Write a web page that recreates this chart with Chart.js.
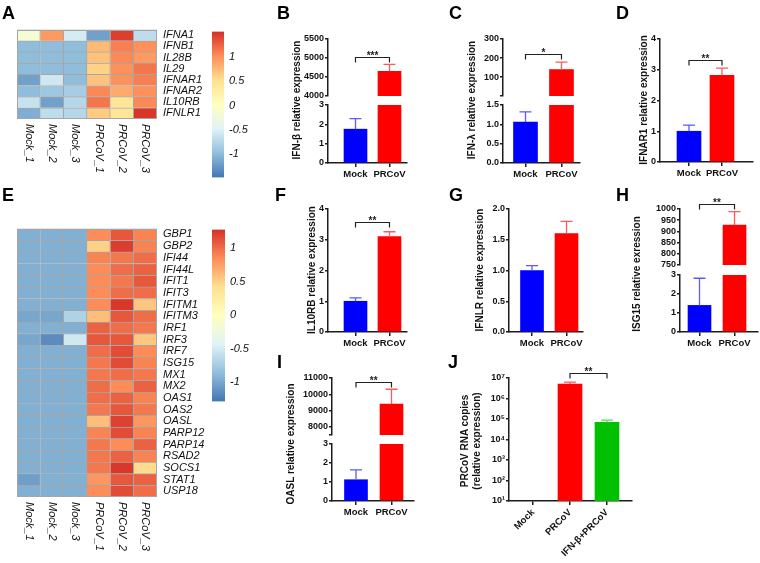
<!DOCTYPE html>
<html><head><meta charset="utf-8">
<script src="https://cdn.jsdelivr.net/npm/chart.js@4.4.1/dist/chart.umd.min.js"></script>
<style>
html,body{margin:0;padding:0;background:#fff;}
#root{position:relative;width:760px;height:563px;overflow:hidden;font-family:Arial,"Liberation Sans",sans-serif;}
canvas{position:absolute;}
.plbl{position:absolute;font-weight:bold;font-size:18px;line-height:18px;color:#000;}
.yt{position:absolute;font-weight:bold;font-size:10px;line-height:12px;white-space:nowrap;text-align:center;color:#111;transform:translate(-50%,-50%) rotate(-90deg);}
</style></head><body><div id="root"></div>
<script>
// ---------------- DATA ----------------
const heatSamples = ['Mock_1','Mock_2','Mock_3','PRCoV_1','PRCoV_2','PRCoV_3'];

const genesA = ['IFNA1','IFNB1','IL28B','IL29','IFNAR1','IFNAR2','IL10RB','IFNLR1'];
const aMock1  = [-0.15, -1.0, -1.0, -1.0, -1.2, -1.0, -0.65, -1.1];
const aMock2  = [ 0.95, -1.0, -1.0, -1.0, -0.6, -0.9, -1.2, -0.7];
const aMock3  = [-0.55, -1.0, -1.0, -1.0, -1.0, -0.85, -0.75, -0.75];
const aPRCoV1 = [-1.2, 0.75, 0.7, 0.6, 0.7, 1.05, 1.15, 0.65];
const aPRCoV2 = [ 1.45, 1.1, 1.05, 1.0, 1.0, 0.85, 0.45, 0.45];
const aPRCoV3 = [-0.7, 1.0, 0.95, 1.15, 1.1, 1.0, 1.05, 1.5];
const aScaleTicks = [-1, -0.5, 0, 0.5, 1];

const genesE = ['GBP1','GBP2','IFI44','IFI44L','IFIT1','IFIT3','IFITM1','IFITM3','IRF1','IRF3','IRF7','ISG15','MX1','MX2','OAS1','OAS2','OASL','PARP12','PARP14','RSAD2','SOCS1','STAT1','USP18'];
const eMock1  = [-0.95,-0.95,-0.95,-0.95,-0.95,-0.95,-0.95,-1.0,-0.95,-1.0,-0.95,-0.95,-0.95,-0.95,-0.95,-0.95,-0.95,-0.95,-0.95,-0.95,-0.95,-1.05,-0.95];
const eMock2  = [-0.95,-0.95,-0.95,-0.95,-0.95,-0.95,-0.95,-1.0,-0.95,-1.16,-0.95,-0.95,-0.95,-0.95,-0.95,-0.95,-0.95,-0.95,-0.95,-0.95,-0.95,-0.95,-0.95];
const eMock3  = [-0.95,-0.95,-0.95,-0.95,-0.95,-0.95,-0.95,-0.7,-0.95,-0.52,-0.95,-0.95,-0.95,-0.95,-0.95,-0.95,-0.95,-0.95,-0.95,-0.95,-0.95,-0.95,-0.95];
const ePRCoV1 = [0.85,0.5,0.9,0.85,0.85,0.85,0.85,0.6,1.05,1.1,1.0,0.95,0.95,1.0,1.0,0.95,0.6,0.9,0.95,0.95,0.95,0.8,0.85];
const ePRCoV2 = [1.1,1.22,0.95,1.0,0.95,1.0,1.25,1.1,1.0,1.1,1.15,1.15,1.0,0.85,1.05,1.1,1.2,1.15,0.85,1.05,1.25,1.1,1.15];
const ePRCoV3 = [0.9,0.9,1.0,1.05,1.1,1.0,0.55,1.0,0.95,0.55,0.85,0.9,0.95,1.05,0.9,0.95,0.8,0.9,1.05,0.9,0.45,1.05,1.0];
const eScaleTicks = [-1, -0.5, 0, 0.5, 1];

const groups2 = ['Mock','PRCoV'];
const bMean = [1.75, 4650];  const bSD = [0.55, 180];
const cMean = [1.06, 140];   const cSD = [0.26, 39];
const dMean = [1.0, 2.82];   const dSD = [0.2, 0.23];
const fMean = [1.0, 3.1];    const fSD = [0.11, 0.16];
const gMean = [1.0, 1.6];    const gSD = [0.08, 0.2];
const hMean = [1.4, 928];    const hSD = [1.43, 60];
const iMean = [1.12, 9400];  const iSD = [0.52, 910];
const jGroups = ['Mock','PRCoV','IFN-β+PRCoV'];
const jMean = [null, 5.1e6, 6.9e4]; const jSD = [null, 1.2e6, 2.0e4];

const bUpTicks = [4000, 4500, 5000, 5500];
const lowTicks3 = [0, 1, 2, 3];
const cUpTicks = [1.5, 100, 200, 300];  const cUpLabels = ['', '100', '200', '300'];
const cLowTicks = [0, 0.5, 1.0, 1.5];   const cLowLabels = ['0.0','0.5','1.0','1.5'];
const ticks4 = [0, 1, 2, 3, 4];
const gTicks = [0, 0.5, 1.0, 1.5, 2.0]; const gLabels = ['0.0','0.5','1.0','1.5','2.0'];
const hUpTicks = [750, 800, 850, 900, 950, 1000];
const iUpTicks = [7500, 8000, 9000, 10000, 11000]; const iUpLabels = ['', '8000','9000','10000','11000'];
const jTicks = [1e1, 1e2, 1e3, 1e4, 1e5, 1e6, 1e7];
const jLabels = ['10¹','10²','10³','10⁴','10⁵','10⁶','10⁷'];

const colors2 = ['#0000FF', '#FF0000'];
const errColors2 = ['#5a5aff', '#ff5a5a'];
const colorsJ = ['#0000FF', '#FF0000', '#00C000'];
const errColorsJ = ['#5a5aff', '#ff5a5a', '#5ad85a'];

// ---------------- HELPERS ----------------
const root = document.getElementById('root');
const FONT = 'Arial, "Liberation Sans", sans-serif';
const AX = '#1c1c1c';
Chart.defaults.font.family = FONT;

function addCanvas(left, top, w, h) {
  const c = document.createElement('canvas');
  c.width = w; c.height = h;
  c.style.left = left + 'px'; c.style.top = top + 'px';
  c.style.width = w + 'px'; c.style.height = h + 'px';
  root.appendChild(c);
  return c;
}
function addDiv(cls, html, x, y) {
  const d = document.createElement('div');
  d.className = cls; d.innerHTML = html;
  d.style.left = x + 'px'; d.style.top = y + 'px';
  root.appendChild(d);
}

const PAL = ['#4575B4','#91BFDB','#E0F3F8','#FFFFBF','#FEE090','#FC8D59','#D73027'];
function hexRgb(h) { return [1,3,5].map(i => parseInt(h.substr(i,2),16)); }
function heatColor(v, lo, hi) {
  let t = (v - lo) / (hi - lo); t = Math.max(0, Math.min(1, t));
  const s = t * (PAL.length - 1);
  const i = Math.min(PAL.length - 2, Math.floor(s));
  const f = s - i;
  const a = hexRgb(PAL[i]), b = hexRgb(PAL[i+1]);
  return 'rgb(' + a.map((c,k) => Math.round(c + (b[k]-c)*f)).join(',') + ')';
}

function heatmap(h) {
  const YW = 55, TOP = 12, BOT = 70;
  const cv = addCanvas(0, h.t - TOP, h.r + YW, (h.b - h.t) + TOP + BOT);
  new Chart(cv, {
    type: 'bar',
    data: {
      labels: h.genes,
      datasets: h.cols.map((col, j) => ({
        label: heatSamples[j],
        data: col.map(() => 1),
        backgroundColor: col.map(v => heatColor(v, h.lo, h.hi)),
        borderColor: '#a6a6a6',
        borderWidth: {top: 1, right: 1, bottom: 0, left: 0},
        borderSkipped: false,
        barPercentage: 1, categoryPercentage: 1
      }))
    },
    options: {
      indexAxis: 'y', responsive: false, animation: false, events: [],
      layout: {padding: {left: h.l, top: TOP, right: 0, bottom: BOT}},
      plugins: {legend: {display: false}, tooltip: {enabled: false}},
      scales: {
        x: {stacked: true, min: 0, max: h.cols.length, display: false},
        y: {stacked: true, position: 'right', afterFit: s => { s.width = YW; },
            grid: {display: false, drawTicks: false}, border: {display: false},
            ticks: {font: {family: FONT, size: 11, style: 'italic'}, color: '#111', padding: 6, autoSkip: false}}
      }
    },
    plugins: [{
      id: 'hmExtra',
      afterDraw(chart) {
        const ctx = chart.ctx, ca = chart.chartArea, xs = chart.scales.x;
        ctx.save();
        ctx.strokeStyle = '#a6a6a6'; ctx.lineWidth = 1;
        ctx.strokeRect(Math.round(ca.left) + 0.5, Math.round(ca.top) + 0.5, Math.round(ca.right - ca.left) - 1, Math.round(ca.bottom - ca.top) - 1);
        ctx.fillStyle = '#111';
        ctx.font = 'italic 11px ' + FONT;
        ctx.textAlign = 'left'; ctx.textBaseline = 'middle';
        heatSamples.forEach((s, j) => {
          const x = xs.getPixelForValue(j + 0.5);
          ctx.save(); ctx.translate(x, ca.bottom + 5); ctx.rotate(Math.PI / 2);
          ctx.fillText(s, 0, 0); ctx.restore();
        });
        ctx.restore();
      }
    }]
  });
}

function colorbar(c) {
  const PL = 6, TOP = 10, YW = 40;
  const cv = addCanvas(c.l - PL, c.t - TOP, PL + (c.r - c.l) + YW, (c.b - c.t) + 2 * TOP);
  new Chart(cv, {
    type: 'bar',
    data: {labels: ['scale'], datasets: [{
      data: [[c.lo, c.hi]],
      backgroundColor: (ctx) => {
        const ca = ctx.chart.chartArea; if (!ca) return '#ccc';
        const g = ctx.chart.ctx.createLinearGradient(0, ca.bottom, 0, ca.top);
        PAL.forEach((col, i) => g.addColorStop(i / (PAL.length - 1), col));
        return g;
      },
      borderWidth: 0, barPercentage: 1, categoryPercentage: 1
    }]},
    options: {
      responsive: false, animation: false, events: [],
      layout: {padding: {left: PL, top: TOP, right: 0, bottom: TOP}},
      plugins: {legend: {display: false}, tooltip: {enabled: false}},
      scales: {
        x: {display: false},
        y: {position: 'right', min: c.lo, max: c.hi, afterFit: s => { s.width = YW; },
            afterBuildTicks: s => { s.ticks = c.ticks.map(v => ({value: v})); },
            grid: {display: false, drawTicks: false}, border: {display: false},
            ticks: {font: {family: FONT, size: 11, style: 'italic'}, color: '#111', padding: 5,
                    callback: v => String(v)}}
      }
    }
  });
}

function barPanel(p) {
  const YW = 44, TOP = 24, RIGHT = 8;
  const XH = p.showX ? (p.xh || 30) : 0;
  const BOT = p.showX ? 0 : 8;
  const cv = addCanvas(p.l - YW, p.t - TOP, YW + (p.r - p.l) + RIGHT, TOP + (p.b - p.t) + XH + BOT);
  // only values reaching this axis segment are drawn here
  const pts = p.values.map((v, i) => ({x: i + 1, y: (v == null || v < p.yMin) ? null : v}));
  new Chart(cv, {
    type: 'bar',
    data: {datasets: [{data: pts, backgroundColor: p.colors, borderWidth: 0, barThickness: p.barW || 23, clip: 0}]},
    options: {
      responsive: false, animation: false, events: [],
      layout: {padding: {left: 0, top: TOP, right: RIGHT, bottom: BOT}},
      plugins: {legend: {display: false}, tooltip: {enabled: false}},
      scales: {
        x: {type: 'linear', min: p.xMin, max: p.xMax, display: !!p.showX, offset: false,
            afterFit: s => { s.height = XH; },
            afterBuildTicks: s => { s.ticks = p.xLabels.map((_, i) => ({value: i + 1})); },
            ticks: {callback: v => p.xLabels[Math.round(v) - 1] || '', font: {family: FONT, size: 9.5, weight: 'bold'},
                    color: '#111', padding: 2, autoSkip: false, minRotation: p.xRot || 0, maxRotation: p.xRot || 0},
            grid: {display: true, offset: false, drawOnChartArea: false, drawTicks: true, tickLength: 4, color: AX, lineWidth: 1.5},
            border: {display: true, color: AX, width: 1.5}},
        y: {type: p.yType || 'linear', min: p.yMin, max: p.yMax,
            afterFit: s => { s.width = YW; },
            afterBuildTicks: s => { s.ticks = p.yTicks.map(v => ({value: v})); },
            ticks: {callback: (v, i) => (p.yLabels ? p.yLabels[i] : String(v)), font: {family: FONT, size: 9, weight: 'bold'},
                    color: '#111', padding: 1, autoSkip: false},
            grid: {display: true, drawOnChartArea: false, drawTicks: true, tickLength: 3, color: AX, lineWidth: 1.5},
            border: {display: true, color: AX, width: 1.5}}
      }
    },
    plugins: [{
      id: 'errs',
      afterDatasetsDraw(chart) {
        const ctx = chart.ctx, xs = chart.scales.x, ys = chart.scales.y;
        ctx.save();
        p.values.forEach((v, i) => {
          const e = p.errors[i];
          if (v == null || e == null || v < p.yMin || v > p.yMax) return;
          const x = xs.getPixelForValue(i + 1);
          const y0 = ys.getPixelForValue(v), y1 = ys.getPixelForValue(v + e);
          ctx.strokeStyle = p.errColors[i]; ctx.lineWidth = 1.3;
          ctx.beginPath();
          ctx.moveTo(x, y0); ctx.lineTo(x, y1);
          ctx.moveTo(x - 6, y1); ctx.lineTo(x + 6, y1);
          ctx.stroke();
        });
        if (p.bracket) {
          const br = p.bracket;
          const y = Math.round(ys.getPixelForValue(br.y)) + 0.5;
          const x1 = xs.getPixelForValue(br.a), x2 = xs.getPixelForValue(br.b);
          ctx.strokeStyle = '#222'; ctx.lineWidth = 1.2;
          ctx.beginPath();
          ctx.moveTo(x1, y + 5); ctx.lineTo(x1, y); ctx.lineTo(x2, y); ctx.lineTo(x2, y + 5);
          ctx.stroke();
          ctx.fillStyle = '#222'; ctx.font = 'bold 10px ' + FONT;
          ctx.textAlign = 'center'; ctx.textBaseline = 'alphabetic';
          ctx.fillText(br.text, (x1 + x2) / 2, y + 1);
        }
        ctx.restore();
      }
    }]
  });
}

// ---------------- PANELS ----------------
// A
heatmap({l: 17, r: 157, t: 29, b: 119, genes: genesA, cols: [aMock1, aMock2, aMock3, aPRCoV1, aPRCoV2, aPRCoV3], lo: -1.49, hi: 1.53});
colorbar({l: 212, r: 224, t: 30, b: 179, lo: -1.49, hi: 1.53, ticks: aScaleTicks});
// E
heatmap({l: 17, r: 157, t: 228, b: 497, genes: genesE, cols: [eMock1, eMock2, eMock3, ePRCoV1, ePRCoV2, ePRCoV3], lo: -1.29, hi: 1.28});
colorbar({l: 212, r: 225, t: 228, b: 403, lo: -1.29, hi: 1.28, ticks: eScaleTicks});

// B
barPanel({l: 328, r: 407, t: 39, b: 96, xMin: 0.191, xMax: 2.515, yMin: 4000, yMax: 5500, yTicks: bUpTicks,
  values: bMean, errors: bSD, colors: colors2, errColors: errColors2, xLabels: groups2, showX: false,
  bracket: {y: 5030, a: 1, b: 2, text: '***'}});
barPanel({l: 328, r: 407, t: 105, b: 163, xMin: 0.191, xMax: 2.515, yMin: 0, yMax: 3, yTicks: lowTicks3,
  values: bMean, errors: bSD, colors: colors2, errColors: errColors2, xLabels: groups2, showX: true});
// C
barPanel({l: 503, r: 580, t: 39, b: 96, xMin: 0.375, xMax: 2.514, yMin: 1.5, yMax: 300, yTicks: cUpTicks, yLabels: cUpLabels,
  values: cMean, errors: cSD, colors: colors2, errColors: errColors2, xLabels: groups2, showX: false, barW: 24,
  bracket: {y: 220, a: 1, b: 2, text: '*'}});
barPanel({l: 503, r: 580, t: 105, b: 163, xMin: 0.375, xMax: 2.514, yMin: 0, yMax: 1.5, yTicks: cLowTicks, yLabels: cLowLabels,
  values: cMean, errors: cSD, colors: colors2, errColors: errColors2, xLabels: groups2, showX: true, barW: 24});
// D
barPanel({l: 660, r: 753, t: 39, b: 162, xMin: 0.121, xMax: 2.94, yMin: 0, yMax: 4, yTicks: ticks4,
  values: dMean, errors: dSD, colors: colors2, errColors: errColors2, xLabels: groups2, showX: true, barW: 24,
  bracket: {y: 3.32, a: 1, b: 2, text: '**'}});
// F
barPanel({l: 328, r: 407, t: 209, b: 332, xMin: 0.191, xMax: 2.515, yMin: 0, yMax: 4, yTicks: ticks4,
  values: fMean, errors: fSD, colors: colors2, errColors: errColors2, xLabels: groups2, showX: true,
  bracket: {y: 3.58, a: 1, b: 2, text: '**'}});
// G
barPanel({l: 509, r: 583, t: 209, b: 332, xMin: 0.333, xMax: 2.478, yMin: 0, yMax: 2, yTicks: gTicks, yLabels: gLabels,
  values: gMean, errors: gSD, colors: colors2, errColors: errColors2, xLabels: groups2, showX: true});
// H
barPanel({l: 680, r: 758, t: 209, b: 265, xMin: 0.443, xMax: 2.671, yMin: 750, yMax: 1000, yTicks: hUpTicks,
  values: hMean, errors: hSD, colors: colors2, errColors: errColors2, xLabels: groups2, showX: false,
  bracket: {y: 1022, a: 1, b: 2, text: '**'}});
barPanel({l: 680, r: 758, t: 275, b: 332, xMin: 0.443, xMax: 2.671, yMin: 0, yMax: 3, yTicks: lowTicks3,
  values: hMean, errors: hSD, colors: colors2, errColors: errColors2, xLabels: groups2, showX: true});
// I
barPanel({l: 332, r: 414, t: 378, b: 435, xMin: 0.324, xMax: 2.634, yMin: 7500, yMax: 11000, yTicks: iUpTicks, yLabels: iUpLabels,
  values: iMean, errors: iSD, colors: colors2, errColors: errColors2, xLabels: groups2, showX: false,
  bracket: {y: 10760, a: 1, b: 2, text: '**'}});
barPanel({l: 332, r: 414, t: 444, b: 501, xMin: 0.324, xMax: 2.634, yMin: 0, yMax: 3, yTicks: lowTicks3,
  values: iMean, errors: iSD, colors: colors2, errColors: errColors2, xLabels: groups2, showX: true});
// J
barPanel({l: 509, r: 632, t: 378, b: 501, xMin: 0.351, xMax: 3.676, yType: 'logarithmic', yMin: 10, yMax: 1e7,
  yTicks: jTicks, yLabels: jLabels, values: jMean, errors: jSD, colors: colorsJ, errColors: errColorsJ,
  xLabels: jGroups, showX: true, xh: 62, xRot: 45, barW: 24,
  bracket: {y: 1.75e7, a: 2, b: 3, text: '**'}});

// Axis titles
addDiv('yt', 'IFN-β relative expression', 297, 100);
addDiv('yt', 'IFN-λ relative expression', 472, 100);
addDiv('yt', 'IFNAR1 relative expression', 644, 100);
addDiv('yt', 'IL10RB relative expression', 312, 270);
addDiv('yt', 'IFNLR relative expression', 480, 270);
addDiv('yt', 'ISG15 relative exression', 637, 274);
addDiv('yt', 'OASL relative expression', 291, 444);
addDiv('yt', 'PRCoV RNA copies<br>(relative expression)', 471, 441);

// Panel letters
[['A',2,6],['B',277,6],['C',449,6],['D',616,6],['E',2,188],['F',275,188],['G',449,188],['H',616,188],['I',277,355],['J',448,355]]
  .forEach(([t,x,y]) => addDiv('plbl', t, x, y - 2.5));
</script></body></html>
